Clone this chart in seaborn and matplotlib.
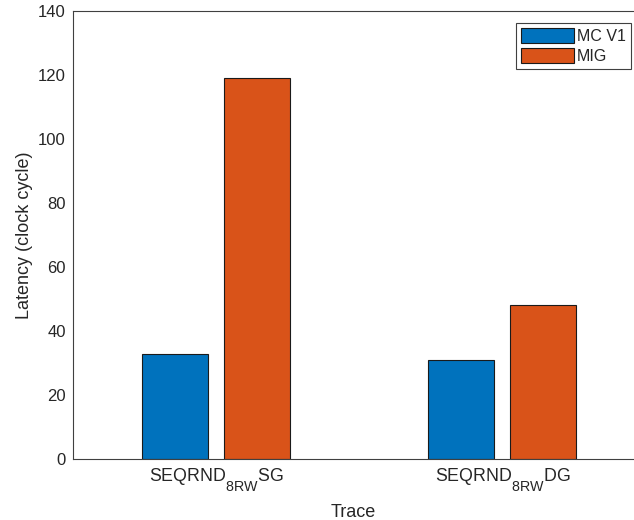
import matplotlib
matplotlib.use("Agg")
import matplotlib.pyplot as plt
import seaborn as sns
import pandas as pd

try:
    import matplotlib._mathtext as _mt
    _mt.FontConstantsBase.sub1 = 1.0
    _mt.SHRINK_FACTOR = 0.8
except Exception:
    pass

categories = ["SEQRND$_{8RW}$SG", "SEQRND$_{8RW}$DG"]
series_names = ["MC V1", "MIG"]
mc_v1 = [33, 31]
mig = [119, 48]
yticks = [0, 20, 40, 60, 80, 100, 120, 140]

sns.set_theme(style="white")
plt.rcParams["font.family"] = ["Liberation Sans", "DejaVu Sans"]
plt.rcParams["mathtext.fontset"] = "custom"
plt.rcParams["mathtext.rm"] = "Liberation Sans"
plt.rcParams["mathtext.default"] = "regular"

df = pd.DataFrame({
    "Trace": categories * 2,
    "Series": [series_names[0]] * 2 + [series_names[1]] * 2,
    "Latency": mc_v1 + mig,
})

fig = plt.figure(figsize=(6.34, 5.2), dpi=100)
ax = fig.add_axes([0.115, 0.117, 0.885, 0.862])

palette = {"MC V1": "#0072BD", "MIG": "#D95319"}
sns.barplot(data=df, x="Trace", y="Latency", hue="Series", palette=palette,
            width=0.574, gap=0.195, edgecolor="#1a1a1a", linewidth=0.8,
            saturation=1, ax=ax)

txt = "#262626"
ax.set_xlim(-0.5, 1.46)
ax.set_ylim(0, 140)
ax.set_yticks(yticks)
ax.set_yticklabels([str(v) for v in yticks])
ax.tick_params(axis="both", direction="in", length=4, width=0.8, colors="#404040",
               labelcolor=txt, labelsize=12, pad=5)
ax.tick_params(axis="x", labelsize=12.8)
ax.tick_params(axis="y", right=False)
ax.tick_params(axis="x", top=False)
ax.set_xlabel("Trace", fontsize=13, color=txt, labelpad=8)
ax.set_ylabel("Latency (clock cycle)", fontsize=13, color=txt, labelpad=4)
for s in ["left", "bottom", "top"]:
    ax.spines[s].set_color("#404040")
    ax.spines[s].set_linewidth(0.8)
ax.spines["right"].set_visible(False)

leg = ax.legend(loc="upper right", bbox_to_anchor=(0.9947, 0.974), fontsize=11.5,
                frameon=True, fancybox=False, shadow=False, framealpha=1,
                handlelength=3.3, handleheight=1.1, handletextpad=0.15,
                borderpad=0.35, labelspacing=0.22, borderaxespad=0)
leg.get_frame().set_edgecolor("#404040")
leg.get_frame().set_linewidth(0.8)
for t in leg.get_texts():
    t.set_color(txt)

fig.savefig("out.png", dpi=100)
